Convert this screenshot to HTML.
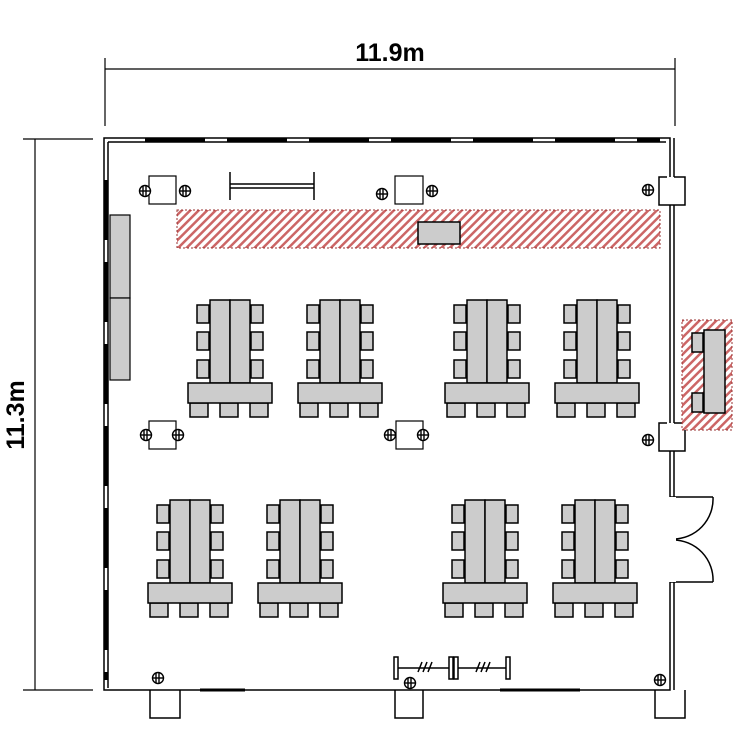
<!DOCTYPE html>
<html><head><meta charset="utf-8"><style>body{margin:0;background:#fff}svg{display:block}</style></head><body>
<svg width="750" height="750" viewBox="0 0 750 750" xmlns="http://www.w3.org/2000/svg">
<defs>
<pattern id="h" width="6" height="6" patternUnits="userSpaceOnUse" patternTransform="rotate(45)">
<rect width="6" height="6" fill="#fff"/><rect width="2.5" height="6" fill="#c66"/></pattern>
<g id="grp" stroke="#000" stroke-width="1.5" fill="#ccc">
<rect x="9" y="5" width="12" height="18"/><rect x="9" y="32" width="12" height="18"/><rect x="9" y="60" width="12" height="18"/>
<rect x="63" y="5" width="12" height="18"/><rect x="63" y="32" width="12" height="18"/><rect x="63" y="60" width="12" height="18"/>
<rect x="22" y="0" width="20" height="83"/><rect x="42" y="0" width="20" height="83"/>
<rect x="2" y="103" width="18" height="14"/><rect x="32" y="103" width="18" height="14"/><rect x="62" y="103" width="18" height="14"/>
<rect x="0" y="83" width="84" height="20"/>
</g>
<g id="cam" stroke="#000" stroke-width="1.4" fill="#fff"><circle cx="0" cy="0" r="5.5"/><line x1="-2" y1="-5" x2="-2" y2="5"/><line x1="1" y1="-5" x2="1" y2="5"/><line x1="-5" y1="0" x2="5" y2="0"/></g>
</defs>
<g stroke="#000" stroke-width="1.2" fill="none">
<line x1="105" y1="69" x2="675" y2="69"/><line x1="105" y1="58" x2="105" y2="126"/><line x1="675" y1="58" x2="675" y2="126"/>
<line x1="35" y1="139" x2="35" y2="690"/><line x1="23" y1="139" x2="93" y2="139"/><line x1="23" y1="690" x2="93" y2="690"/>
</g>
<text x="390" y="61" font-family="Liberation Sans, sans-serif" font-size="25" font-weight="bold" text-anchor="middle">11.9m</text>
<text transform="translate(24,415) rotate(-90)" font-family="Liberation Sans, sans-serif" font-size="25" font-weight="bold" text-anchor="middle">11.3m</text>
<g stroke="#000" stroke-width="1.5" fill="none">
<rect x="104" y="138" width="566" height="552"/>
<line x1="108" y1="142" x2="108" y2="688"/><line x1="108" y1="142" x2="666" y2="142"/>
<line x1="674" y1="138" x2="674" y2="177"/><line x1="674" y1="205" x2="674" y2="423"/><line x1="674" y1="450" x2="674" y2="497"/><line x1="674" y1="582" x2="674" y2="690"/>
<path d="M667 177h-8v28h26v-28h-11" fill="#fff"/>
<path d="M667 423h-8v28h26v-28h-11" fill="#fff"/>
<path d="M150 690v28h30v-28M395 690v28h28v-28M655 690v28h30v-28"/>
<path d="M670 497h43M670 582h43M713 497a40 40 0 0 1-40 42M713 582a40 40 0 0 0-40-42"/>
</g>
<rect x="668" y="497" width="8" height="85" fill="#fff"/>
<g stroke="#000" stroke-width="3" stroke-dasharray="60 22"><line x1="145" y1="140" x2="660" y2="140"/><line x1="106" y1="180" x2="106" y2="680"/></g>
<g stroke="#000" stroke-width="3"><line x1="200" y1="690" x2="245" y2="690"/><line x1="500" y1="690" x2="580" y2="690"/></g>
<g fill="#ccc" stroke="#000" stroke-width="1.2"><rect x="110" y="215" width="20" height="83"/><rect x="110" y="298" width="20" height="82"/></g>
<rect x="177" y="210" width="483" height="38" fill="url(#h)" stroke="#933" stroke-dasharray="2 2"/>
<rect x="418" y="222" width="42" height="22" fill="#ccc" stroke="#000" stroke-width="1.5"/>
<rect x="682" y="320" width="50" height="110" fill="url(#h)" stroke="#933" stroke-dasharray="2 2"/>
<g fill="#ccc" stroke="#000" stroke-width="1.5"><rect x="704" y="330" width="21" height="83"/><rect x="692" y="333" width="11" height="19"/><rect x="692" y="393" width="11" height="19"/></g>
<g fill="#fff" stroke="#000" stroke-width="1.2"><rect x="149" y="176" width="27" height="28"/><rect x="395" y="176" width="28" height="28"/><rect x="149" y="421" width="27" height="28"/><rect x="396" y="421" width="27" height="28"/></g>
<use href="#cam" x="145" y="191"/><use href="#cam" x="185" y="191"/><use href="#cam" x="382" y="194"/><use href="#cam" x="432" y="191"/>
<use href="#cam" x="146" y="435"/><use href="#cam" x="178" y="435"/><use href="#cam" x="390" y="435"/><use href="#cam" x="423" y="435"/>
<use href="#cam" x="648" y="190"/><use href="#cam" x="648" y="440"/><use href="#cam" x="158" y="678"/><use href="#cam" x="410" y="683"/><use href="#cam" x="660" y="680"/>
<g stroke="#000" stroke-width="1.5" fill="none">
<path d="M230 172v28M314 172v28M230 184h84M230 188h84"/>
<rect x="394" y="657" width="4" height="22"/><rect x="449" y="657" width="4" height="22"/><rect x="454" y="657" width="4" height="22"/><rect x="506" y="657" width="4" height="22"/>
<path d="M398 668h51M458 668h48M418 672l4-10M423 672l4-10M428 672l4-10M476 672l4-10M481 672l4-10M486 672l4-10"/>
</g>
<use href="#grp" x="188" y="300"/><use href="#grp" x="298" y="300"/><use href="#grp" x="445" y="300"/><use href="#grp" x="555" y="300"/>
<use href="#grp" x="148" y="500"/><use href="#grp" x="258" y="500"/><use href="#grp" x="443" y="500"/><use href="#grp" x="553" y="500"/>
</svg>
</body></html>
